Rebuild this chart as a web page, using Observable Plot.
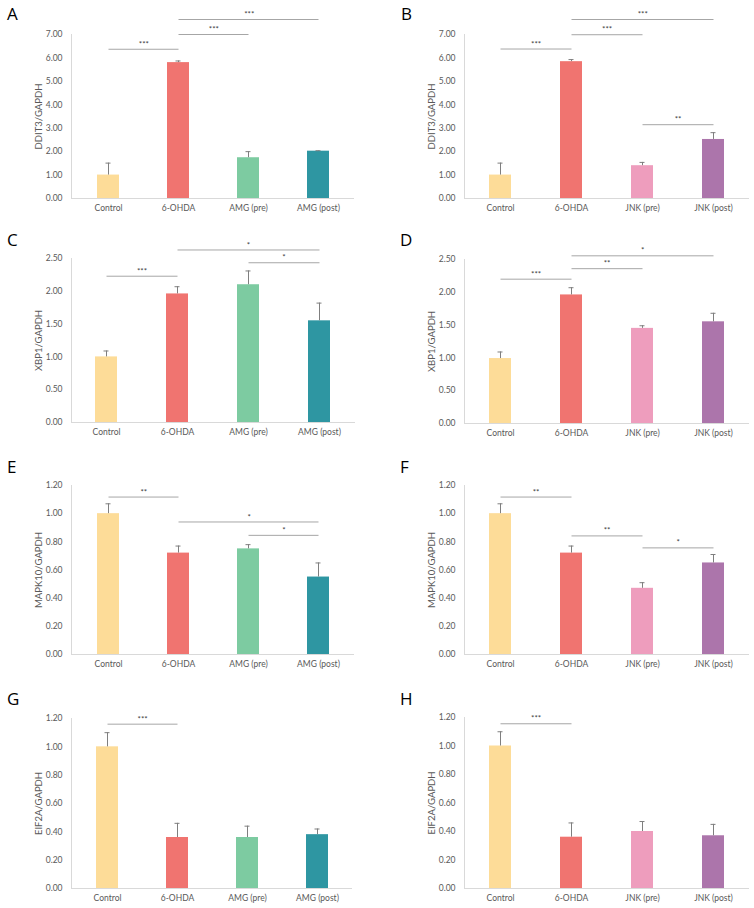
<!DOCTYPE html>
<html><head><meta charset="utf-8">
<script src="https://cdn.jsdelivr.net/npm/d3@7"></script>
<script src="https://cdn.jsdelivr.net/npm/@observablehq/plot@0.6"></script>
<style>
body{margin:0;background:#fff;}
#root{position:relative;width:754px;height:908px;overflow:hidden;}
.panel{position:absolute;width:377px;height:227px;}
.letter{position:absolute;font-family:"Open Sans",sans-serif;font-size:17px;line-height:1;color:#000;}
</style></head><body><div id="root"></div>
<script>
// ---------- data ----------
const categoriesAMG = ["Control", "6-OHDA", "AMG (pre)", "AMG (post)"];
const categoriesJNK = ["Control", "6-OHDA", "JNK (pre)", "JNK (post)"];
const colorsAMG = ["#FDDC98", "#F07470", "#7DCBA1", "#2E96A2"];
const colorsJNK = ["#FDDC98", "#F07470", "#EE9DBD", "#AC75AB"];

const ddit3AMG = [1.00, 5.80, 1.74, 2.02];
const ddit3AMGErr = [0.51, 0.07, 0.26, 0.02];
const ddit3JNK = [1.00, 5.84, 1.40, 2.52];
const ddit3JNKErr = [0.51, 0.09, 0.14, 0.29];
const xbp1AMG = [1.00, 1.96, 2.10, 1.55];
const xbp1AMGErr = [0.09, 0.11, 0.21, 0.27];
const xbp1JNK = [0.99, 1.96, 1.45, 1.55];
const xbp1JNKErr = [0.10, 0.11, 0.04, 0.13];
const mapk10AMG = [1.00, 0.72, 0.75, 0.55];
const mapk10AMGErr = [0.07, 0.05, 0.03, 0.10];
const mapk10JNK = [1.00, 0.72, 0.47, 0.65];
const mapk10JNKErr = [0.07, 0.05, 0.04, 0.06];
const eif2aAMG = [1.00, 0.36, 0.36, 0.38];
const eif2aAMGErr = [0.10, 0.10, 0.08, 0.04];
const eif2aJNK = [1.00, 0.36, 0.40, 0.37];
const eif2aJNKErr = [0.10, 0.10, 0.07, 0.08];

const ticksDDIT3 = [0, 1, 2, 3, 4, 5, 6, 7];
const ticksXBP1 = [0, 0.5, 1, 1.5, 2, 2.5];
const ticks120 = [0, 0.2, 0.4, 0.6, 0.8, 1.0, 1.2];

// significance brackets: [from, to, level, stars]
const sigA = [["Control", "6-OHDA", 6.37, "***"], ["6-OHDA", "AMG (pre)", 7.0, "***"], ["6-OHDA", "AMG (post)", 7.64, "***"]];
const sigB = [["Control", "6-OHDA", 6.38, "***"], ["6-OHDA", "JNK (pre)", 6.99, "***"], ["6-OHDA", "JNK (post)", 7.64, "***"], ["JNK (pre)", "JNK (post)", 3.15, "**"]];
const sigC = [["Control", "6-OHDA", 2.23, "***"], ["6-OHDA", "AMG (post)", 2.63, "*"], ["AMG (pre)", "AMG (post)", 2.435, "*"]];
const sigD = [["Control", "6-OHDA", 2.2, "***"], ["6-OHDA", "JNK (pre)", 2.36, "**"], ["6-OHDA", "JNK (post)", 2.556, "*"]];
const sigE = [["Control", "6-OHDA", 1.118, "**"], ["6-OHDA", "AMG (post)", 0.941, "*"], ["AMG (pre)", "AMG (post)", 0.846, "*"]];
const sigF = [["Control", "6-OHDA", 1.118, "**"], ["6-OHDA", "JNK (pre)", 0.842, "**"], ["JNK (pre)", "JNK (post)", 0.757, "*"]];
const sigG = [["Control", "6-OHDA", 1.16, "***"]];
const sigH = [["Control", "6-OHDA", 1.156, "***"]];

// ---------- layout ----------
const panels = [
  {letter: "A", left: 0, top: 0, lx: 7, ly: 8, mL: 71, mR: 23, mT: 34, mB: 29, cats: categoriesAMG, colors: colorsAMG, vals: ddit3AMG, errs: ddit3AMGErr, ymax: 7, ticks: ticksDDIT3, label: "DDIT3/GAPDH", sig: sigA},
  {letter: "B", left: 377, top: 0, lx: 24, ly: 8, mL: 87, mR: 5, mT: 34, mB: 29, cats: categoriesJNK, colors: colorsJNK, vals: ddit3JNK, errs: ddit3JNKErr, ymax: 7, ticks: ticksDDIT3, label: "DDIT3/GAPDH", sig: sigB},
  {letter: "C", left: 0, top: 227, lx: 7, ly: 7, mL: 71, mR: 22, mT: 31, mB: 32, cats: categoriesAMG, colors: colorsAMG, vals: xbp1AMG, errs: xbp1AMGErr, ymax: 2.5, ticks: ticksXBP1, label: "XBP1/GAPDH", sig: sigC},
  {letter: "D", left: 377, top: 227, lx: 23, ly: 7, mL: 87, mR: 5, mT: 32, mB: 31, cats: categoriesJNK, colors: colorsJNK, vals: xbp1JNK, errs: xbp1JNKErr, ymax: 2.5, ticks: ticksXBP1, label: "XBP1/GAPDH", sig: sigD},
  {letter: "E", left: 0, top: 454, lx: 7, ly: 7, mL: 71, mR: 23, mT: 31, mB: 27, cats: categoriesAMG, colors: colorsAMG, vals: mapk10AMG, errs: mapk10AMGErr, ymax: 1.2, ticks: ticks120, label: "MAPK10/GAPDH", sig: sigE},
  {letter: "F", left: 377, top: 454, lx: 23, ly: 7, mL: 87, mR: 5, mT: 31, mB: 27, cats: categoriesJNK, colors: colorsJNK, vals: mapk10JNK, errs: mapk10JNKErr, ymax: 1.2, ticks: ticks120, label: "MAPK10/GAPDH", sig: sigF},
  {letter: "G", left: 0, top: 681, lx: 7, ly: 12, mL: 71, mR: 25, mT: 37, mB: 20, cats: categoriesAMG, colors: colorsAMG, vals: eif2aAMG, errs: eif2aAMGErr, ymax: 1.2, ticks: ticks120, label: "EIF2A/GAPDH", sig: sigG},
  {letter: "H", left: 377, top: 681, lx: 23, ly: 12, mL: 87, mR: 5, mT: 36, mB: 20, cats: categoriesJNK, colors: colorsJNK, vals: eif2aJNK, errs: eif2aJNKErr, ymax: 1.2, ticks: ticks120, label: "EIF2A/GAPDH", sig: sigH}
];

const root = document.getElementById("root");
const W = 377, H = 227;
const fmt = d3.format(".2f");

for (const p of panels) {
  const data = p.cats.map((c, i) => ({cat: c, v: p.vals[i], e: p.errs[i], top: p.vals[i] + p.errs[i]}));
  const step = (W - p.mL - p.mR) / p.cats.length;
  const sig = p.sig.map(([from, to, y, s]) => ({from, to, y, s}));
  const sigText = sig.map(d => Plot.text([d], {
    x: "from", y: "y", text: "s",
    dx: (p.cats.indexOf(d.to) - p.cats.indexOf(d.from)) * step / 2,
    dy: -5, fontSize: 8, fill: "#404040", fontFamily: "Lato, sans-serif"
  }));
  const svg = Plot.plot({
    width: W, height: H,
    marginLeft: p.mL, marginRight: p.mR, marginTop: p.mT, marginBottom: p.mB,
    style: {fontFamily: "Lato, sans-serif", fontSize: "8.5px", background: "transparent", overflow: "visible"},
    x: {domain: p.cats, paddingInner: 0.69, paddingOuter: 0.345, label: null},
    y: {domain: [0, p.ymax], label: null},
    color: {domain: p.cats, range: p.colors},
    marks: [
      Plot.frame({anchor: "left", stroke: "#d9d9d9"}),
      Plot.ruleY([0], {stroke: "#d9d9d9"}),
      Plot.axisY({ticks: p.ticks, tickFormat: fmt, tickSize: 0, tickPadding: 9, fill: "#595959", label: null}),
      Plot.axisX({tickSize: 0, tickPadding: 6, fill: "#595959", label: null}),
      Plot.text([p.label], {frameAnchor: "left", textAnchor: "middle", dx: -33, rotate: -90, fontSize: 9.5, fill: "#595959"}),
      Plot.barY(data, {x: "cat", y: "v", fill: "cat"}),
      Plot.ruleX(data, {x: "cat", y1: "v", y2: "top", stroke: "#7f7f7f", strokeWidth: 1}),
      Plot.tickY(data, {x: "cat", y: "top", stroke: "#7f7f7f", strokeWidth: 1, insetLeft: 8.5, insetRight: 8.5}),
      Plot.link(sig, {x1: "from", x2: "to", y1: "y", y2: "y", stroke: "#a6a6a6", strokeWidth: 1}),
      ...sigText
    ]
  });
  const div = document.createElement("div");
  div.className = "panel";
  div.style.left = p.left + "px";
  div.style.top = p.top + "px";
  div.appendChild(svg);
  const L = document.createElement("div");
  L.className = "letter";
  L.textContent = p.letter;
  L.style.left = (p.left + p.lx) + "px";
  L.style.top = (p.top + p.ly - 3) + "px";
  root.appendChild(div);
  root.appendChild(L);
}
</script></body></html>
